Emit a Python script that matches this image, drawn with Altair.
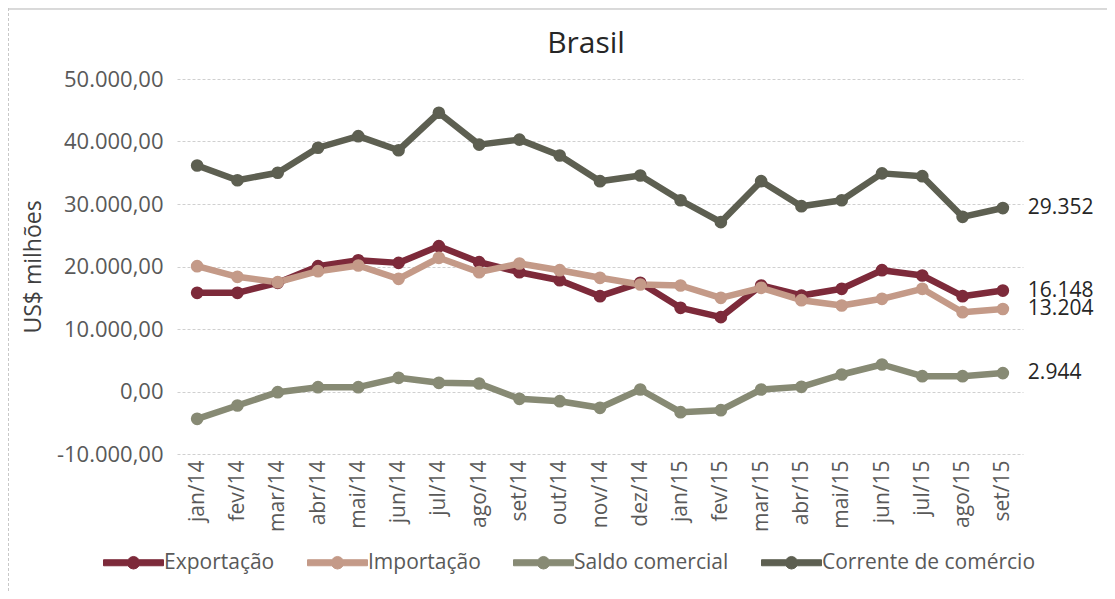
import altair as alt
import pandas as pd

months = ["jan/14", "fev/14", "mar/14", "abr/14", "mai/14", "jun/14", "jul/14",
          "ago/14", "set/14", "out/14", "nov/14", "dez/14", "jan/15", "fev/15",
          "mar/15", "abr/15", "mai/15", "jun/15", "jul/15", "ago/15", "set/15"]
exportacao = [15790, 15790, 17390, 20050, 21000, 20580, 23250, 20690, 19090, 17810, 15250,
              17390, 13390, 11900, 16960, 15360, 16430, 19410, 18560, 15250, 16148]
importacao = [20050, 18350, 17490, 19250, 20160, 18030, 21390, 19090, 20480, 19410, 18190,
              17120, 16960, 14990, 16590, 14610, 13760, 14830, 16430, 12690, 13204]
saldo = [-4370, -2240, -110, 690, 690, 2190, 1390, 1280, -1170, -1550, -2610,
         320, -3310, -2990, 320, 750, 2720, 4320, 2450, 2450, 2944]
corrente = [36160, 33800, 35000, 39000, 40850, 38600, 44600, 39500, 40300, 37760, 33650,
            34560, 30600, 27100, 33650, 29650, 30600, 34900, 34450, 27950, 29352]

series_names = ["Exportação", "Importação", "Saldo comercial", "Corrente de comércio"]
series_colors = ["#7D2A3A", "#C49A88", "#878A74", "#5D5F51"]
y_ticks = [-10000, 0, 10000, 20000, 30000, 40000, 50000]
chart_title = ["Brasil"]

rows = []
for name, vals in zip(series_names, [exportacao, importacao, saldo, corrente]):
    for i, (m, v) in enumerate(zip(months, vals)):
        rows.append({"mes": m, "serie": name, "linha": name, "valor": v, "ord": i,
                     "last": i == len(months) - 1})
df = pd.DataFrame(rows)

W, H = 846, 375
PAD = {"left": 169, "top": 71, "right": 84, "bottom": 137}
FONT = "Open Sans"

# legend glyph: thick line with a dot in the middle (polygon only)
legend_path = ("M-1,-0.1L-0.19,-0.1L-0.182,-0.105L-0.105,-0.182L0,-0.21L0.105,-0.182"
               "L0.182,-0.105L0.19,-0.1L1,-0.1L1,0.1L0.19,0.1L0.182,0.105L0.105,0.182"
               "L0,0.21L-0.105,0.182L-0.182,0.105L-0.19,0.1L-1,0.1Z")

x_enc = alt.X("mes:N", sort=months,
              scale=alt.Scale(type="point", padding=0.5),
              axis=alt.Axis(title=None, labelAngle=270, labelAlign="right",
                            labelBaseline="middle", labelPadding=6,
                            labelFontSize=21, labelColor="#595959", labelFont=FONT,
                            ticks=False, domain=False, grid=False))
y_enc = alt.Y("valor:Q",
              scale=alt.Scale(domain=[-10000, 50000], nice=False, zero=False),
              axis=alt.Axis(title="US$ milhões", values=y_ticks, format=",.2f",
                            labelFontSize=22, labelColor="#595959", labelFont=FONT,
                            labelPadding=14, ticks=False, domain=False,
                            grid=True, gridColor="#D0D0D0", gridDash=[3, 2],
                            gridWidth=1,
                            titleFont=FONT, titleFontSize=23, titleFontWeight="normal",
                            titleColor="#404040", titleAngle=270, titleX=-144,
                            titleY=H / 2, titleAlign="center", titleBaseline="middle"))

base = alt.Chart(df)

lines = base.mark_line(strokeWidth=6.5, strokeJoin="round").encode(
    x=x_enc, y=y_enc,
    color=alt.Color("serie:N",
                    scale=alt.Scale(domain=series_names, range=series_colors),
                    legend=alt.Legend(title=None, orient="none", direction="horizontal",
                                      legendX=-74, legendY=453, padding=0,
                                      symbolType=legend_path, symbolSize=3600,
                                      symbolStrokeWidth=1, symbolFillColor="#888888",
                                      labelOffset=0,
                                      columnPadding=30, labelFont=FONT,
                                      labelFontSize=21, labelColor="#595959",
                                      labelLimit=400)),
    order="ord:Q",
)

points = base.mark_point(filled=True, size=160, opacity=1).encode(
    x=x_enc, y=y_enc,
    color=alt.Color("serie:N",
                    scale=alt.Scale(domain=series_names, range=series_colors)),
)

labels = base.transform_filter("datum.last").mark_text(
    align="left", baseline="middle", dx=25, fontSize=21, font=FONT, color="#262626"
).encode(x=x_enc, y=y_enc, text=alt.Text("valor:Q", format=",.0f"))

title_mark = alt.Chart(pd.DataFrame({"t": chart_title})).mark_text(
    align="center", baseline="alphabetic", fontSize=30, font=FONT, color="#262626"
).encode(text="t:N", x=alt.value(W / 2 - 14), y=alt.value(-26))

frame_top = alt.Chart(df).mark_rule(color="#D9D9D9", strokeWidth=3).encode(
    x=alt.value(-PAD["left"]), x2=alt.value(W + PAD["right"]),
    y=alt.value(-PAD["top"]))
frame_left = alt.Chart(df).mark_rule(color="#C8C8C8", strokeWidth=1,
                                     strokeDash=[3, 2]).encode(
    x=alt.value(-PAD["left"] + 0.5), y=alt.value(-PAD["top"]),
    y2=alt.value(H + PAD["bottom"]))

chart = alt.layer(lines, points, labels, title_mark, frame_top, frame_left).properties(
    width=W, height=H,
    autosize=alt.AutoSizeParams(type="none"),
    padding=PAD,
    background="white",
).configure(
    locale={"number": {"decimal": ",", "thousands": ".", "grouping": [3],
                       "currency": ["US$", ""], "minus": "-"}},
    view={"stroke": None},
)

chart.save("out.html", embed_options={"renderer": "svg", "actions": False})
